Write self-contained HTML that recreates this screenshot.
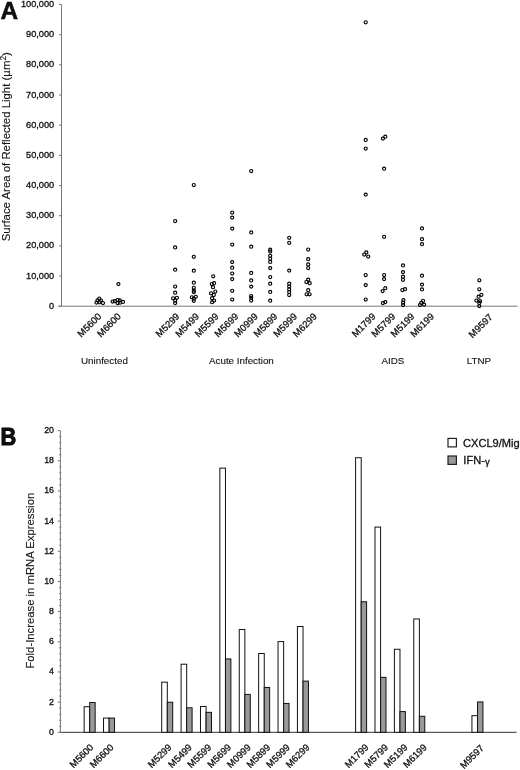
<!DOCTYPE html>
<html><head><meta charset="utf-8"><title>Figure</title>
<style>
html,body{margin:0;padding:0;background:#fff;}
body{width:520px;height:770px;overflow:hidden;}
svg{display:block;will-change:transform;}
svg text{font-family:"Liberation Sans", sans-serif;fill:#111;stroke:#111;stroke-width:0.12px;}
</style></head>
<body>
<svg width="520" height="770" viewBox="0 0 520 770">
<line x1="61.5" y1="4.5" x2="61.5" y2="306.2" stroke="#777" stroke-width="1"/>
<line x1="58" y1="306.2" x2="517.5" y2="306.2" stroke="#777" stroke-width="1"/>
<line x1="59" y1="306.20" x2="61.5" y2="306.20" stroke="#777" stroke-width="1"/>
<text x="54.2" y="308.80" font-size="9.2" text-anchor="end" style="stroke-width:0.32px">0</text>
<line x1="59" y1="276.03" x2="61.5" y2="276.03" stroke="#777" stroke-width="1"/>
<text x="54.2" y="278.63" font-size="9.2" text-anchor="end" style="stroke-width:0.32px">10,000</text>
<line x1="59" y1="245.86" x2="61.5" y2="245.86" stroke="#777" stroke-width="1"/>
<text x="54.2" y="248.46" font-size="9.2" text-anchor="end" style="stroke-width:0.32px">20,000</text>
<line x1="59" y1="215.69" x2="61.5" y2="215.69" stroke="#777" stroke-width="1"/>
<text x="54.2" y="218.29" font-size="9.2" text-anchor="end" style="stroke-width:0.32px">30,000</text>
<line x1="59" y1="185.52" x2="61.5" y2="185.52" stroke="#777" stroke-width="1"/>
<text x="54.2" y="188.12" font-size="9.2" text-anchor="end" style="stroke-width:0.32px">40,000</text>
<line x1="59" y1="155.35" x2="61.5" y2="155.35" stroke="#777" stroke-width="1"/>
<text x="54.2" y="157.95" font-size="9.2" text-anchor="end" style="stroke-width:0.32px">50,000</text>
<line x1="59" y1="125.18" x2="61.5" y2="125.18" stroke="#777" stroke-width="1"/>
<text x="54.2" y="127.78" font-size="9.2" text-anchor="end" style="stroke-width:0.32px">60,000</text>
<line x1="59" y1="95.01" x2="61.5" y2="95.01" stroke="#777" stroke-width="1"/>
<text x="54.2" y="97.61" font-size="9.2" text-anchor="end" style="stroke-width:0.32px">70,000</text>
<line x1="59" y1="64.84" x2="61.5" y2="64.84" stroke="#777" stroke-width="1"/>
<text x="54.2" y="67.44" font-size="9.2" text-anchor="end" style="stroke-width:0.32px">80,000</text>
<line x1="59" y1="34.67" x2="61.5" y2="34.67" stroke="#777" stroke-width="1"/>
<text x="54.2" y="37.27" font-size="9.2" text-anchor="end" style="stroke-width:0.32px">90,000</text>
<line x1="59" y1="4.50" x2="61.5" y2="4.50" stroke="#777" stroke-width="1"/>
<text x="54.2" y="7.10" font-size="9.2" text-anchor="end" style="stroke-width:0.32px">100,000</text>
<g fill="none" stroke="#000" stroke-width="1.15"><circle cx="99.2" cy="298.5" r="1.55"/><circle cx="97.5" cy="300.3" r="1.55"/><circle cx="101" cy="300.5" r="1.55"/><circle cx="96.5" cy="302.5" r="1.55"/><circle cx="99.5" cy="302.3" r="1.55"/><circle cx="103" cy="303" r="1.55"/><circle cx="118.4" cy="284.1" r="1.55"/><circle cx="112.6" cy="301.5" r="1.55"/><circle cx="114.8" cy="301.2" r="1.55"/><circle cx="117.6" cy="300" r="1.55"/><circle cx="119.7" cy="300.4" r="1.55"/><circle cx="117.6" cy="303" r="1.55"/><circle cx="120" cy="302.7" r="1.55"/><circle cx="123" cy="301.9" r="1.55"/><circle cx="175.15" cy="221.0" r="1.55"/><circle cx="175.15" cy="247.4" r="1.55"/><circle cx="175.15" cy="269.7" r="1.55"/><circle cx="175.15" cy="286.5" r="1.55"/><circle cx="175.15" cy="292.7" r="1.55"/><circle cx="173.1" cy="298.3" r="1.55"/><circle cx="176.9" cy="297.8" r="1.55"/><circle cx="175.15" cy="300.4" r="1.55"/><circle cx="175.15" cy="303.1" r="1.55"/><circle cx="193.8" cy="185" r="1.55"/><circle cx="193.8" cy="256.8" r="1.55"/><circle cx="193.8" cy="270.7" r="1.55"/><circle cx="193.8" cy="282.7" r="1.55"/><circle cx="193.8" cy="287.8" r="1.55"/><circle cx="193.8" cy="290.6" r="1.55"/><circle cx="193.8" cy="292" r="1.55"/><circle cx="191.9" cy="297.3" r="1.55"/><circle cx="195.8" cy="296.8" r="1.55"/><circle cx="193.8" cy="298.5" r="1.55"/><circle cx="193.8" cy="300.8" r="1.55"/><circle cx="213.2" cy="276.3" r="1.55"/><circle cx="214.1" cy="283.2" r="1.55"/><circle cx="211.8" cy="284" r="1.55"/><circle cx="213" cy="287.2" r="1.55"/><circle cx="215.3" cy="291.5" r="1.55"/><circle cx="211" cy="293.3" r="1.55"/><circle cx="213.8" cy="295" r="1.55"/><circle cx="212.1" cy="298.2" r="1.55"/><circle cx="214.1" cy="300.5" r="1.55"/><circle cx="212.1" cy="302.2" r="1.55"/><circle cx="232.2" cy="212.5" r="1.55"/><circle cx="232.2" cy="217.6" r="1.55"/><circle cx="232.2" cy="228.6" r="1.55"/><circle cx="232.2" cy="244.5" r="1.55"/><circle cx="232.2" cy="262.1" r="1.55"/><circle cx="232.2" cy="267.7" r="1.55"/><circle cx="232.2" cy="273.5" r="1.55"/><circle cx="232.2" cy="279.1" r="1.55"/><circle cx="232.2" cy="290.8" r="1.55"/><circle cx="232.2" cy="299.5" r="1.55"/><circle cx="251.2" cy="171" r="1.55"/><circle cx="251.2" cy="232.4" r="1.55"/><circle cx="251.2" cy="246.7" r="1.55"/><circle cx="251.2" cy="272.9" r="1.55"/><circle cx="251.2" cy="280.4" r="1.55"/><circle cx="251.2" cy="286.6" r="1.55"/><circle cx="251.2" cy="296" r="1.55"/><circle cx="251.2" cy="297.8" r="1.55"/><circle cx="251.2" cy="300.5" r="1.55"/><circle cx="270.2" cy="249.6" r="1.55"/><circle cx="270.2" cy="251.6" r="1.55"/><circle cx="270.2" cy="255.8" r="1.55"/><circle cx="270.2" cy="258.8" r="1.55"/><circle cx="270.2" cy="261.9" r="1.55"/><circle cx="270.2" cy="268.1" r="1.55"/><circle cx="270.2" cy="277" r="1.55"/><circle cx="270.2" cy="283.7" r="1.55"/><circle cx="270.2" cy="291.9" r="1.55"/><circle cx="270.2" cy="300.7" r="1.55"/><circle cx="289.2" cy="237.8" r="1.55"/><circle cx="289.2" cy="242.8" r="1.55"/><circle cx="289.2" cy="270.6" r="1.55"/><circle cx="289.2" cy="283.7" r="1.55"/><circle cx="289.2" cy="286.5" r="1.55"/><circle cx="289.2" cy="289.3" r="1.55"/><circle cx="289.2" cy="292" r="1.55"/><circle cx="289.2" cy="295" r="1.55"/><circle cx="308.2" cy="249.5" r="1.55"/><circle cx="308.2" cy="259.2" r="1.55"/><circle cx="308.2" cy="264.4" r="1.55"/><circle cx="308.2" cy="268" r="1.55"/><circle cx="308.2" cy="279.6" r="1.55"/><circle cx="306.4" cy="282" r="1.55"/><circle cx="309.7" cy="283.2" r="1.55"/><circle cx="308.2" cy="290.2" r="1.55"/><circle cx="306.6" cy="294.3" r="1.55"/><circle cx="309.6" cy="294.3" r="1.55"/><circle cx="365.7" cy="22.3" r="1.55"/><circle cx="365.7" cy="139.9" r="1.55"/><circle cx="365.7" cy="148.5" r="1.55"/><circle cx="365.7" cy="194.6" r="1.55"/><circle cx="364.2" cy="254.5" r="1.55"/><circle cx="366.3" cy="252.4" r="1.55"/><circle cx="368.2" cy="256.5" r="1.55"/><circle cx="365.7" cy="275" r="1.55"/><circle cx="365.7" cy="285.1" r="1.55"/><circle cx="365.7" cy="299.5" r="1.55"/><circle cx="385.3" cy="136.7" r="1.55"/><circle cx="382.9" cy="138.6" r="1.55"/><circle cx="384.1" cy="168.7" r="1.55"/><circle cx="384.1" cy="236.8" r="1.55"/><circle cx="384.1" cy="275" r="1.55"/><circle cx="384.1" cy="279.1" r="1.55"/><circle cx="385.3" cy="288.2" r="1.55"/><circle cx="382.6" cy="291.1" r="1.55"/><circle cx="385.3" cy="302.1" r="1.55"/><circle cx="382.9" cy="303.1" r="1.55"/><circle cx="403" cy="265.4" r="1.55"/><circle cx="403" cy="272.1" r="1.55"/><circle cx="403" cy="276.7" r="1.55"/><circle cx="403" cy="279.8" r="1.55"/><circle cx="402.3" cy="290" r="1.55"/><circle cx="405" cy="289.2" r="1.55"/><circle cx="403.4" cy="300.2" r="1.55"/><circle cx="403.1" cy="302.7" r="1.55"/><circle cx="403.1" cy="305" r="1.55"/><circle cx="422" cy="228.4" r="1.55"/><circle cx="422" cy="239.2" r="1.55"/><circle cx="422" cy="244.2" r="1.55"/><circle cx="422" cy="275.7" r="1.55"/><circle cx="422" cy="284.6" r="1.55"/><circle cx="422" cy="289.4" r="1.55"/><circle cx="423.1" cy="300.8" r="1.55"/><circle cx="421.2" cy="302.9" r="1.55"/><circle cx="424.1" cy="304.6" r="1.55"/><circle cx="420" cy="305" r="1.55"/><circle cx="479.3" cy="280.3" r="1.55"/><circle cx="479.3" cy="289.3" r="1.55"/><circle cx="481.4" cy="294.8" r="1.55"/><circle cx="478.6" cy="296.7" r="1.55"/><circle cx="476.4" cy="300.5" r="1.55"/><circle cx="480" cy="301.2" r="1.55"/><circle cx="479.3" cy="302.9" r="1.55"/><circle cx="479.3" cy="306.1" r="1.55"/></g>
<text x="99.78" y="314.98" font-size="9.5" text-anchor="end" transform="rotate(-45 99.78 314.98)" dy="3" style="stroke-width:0.3px">M5600</text>
<text x="119.48" y="314.98" font-size="9.5" text-anchor="end" transform="rotate(-45 119.48 314.98)" dy="3" style="stroke-width:0.3px">M6600</text>
<text x="178.01" y="314.98" font-size="9.5" text-anchor="end" transform="rotate(-45 178.01 314.98)" dy="3" style="stroke-width:0.3px">M5299</text>
<text x="197.71" y="314.98" font-size="9.5" text-anchor="end" transform="rotate(-45 197.71 314.98)" dy="3" style="stroke-width:0.3px">M5499</text>
<text x="217.21" y="314.98" font-size="9.5" text-anchor="end" transform="rotate(-45 217.21 314.98)" dy="3" style="stroke-width:0.3px">M5599</text>
<text x="236.81" y="314.98" font-size="9.5" text-anchor="end" transform="rotate(-45 236.81 314.98)" dy="3" style="stroke-width:0.3px">M5699</text>
<text x="256.41" y="314.98" font-size="9.5" text-anchor="end" transform="rotate(-45 256.41 314.98)" dy="3" style="stroke-width:0.3px">M0999</text>
<text x="276.01" y="314.98" font-size="9.5" text-anchor="end" transform="rotate(-45 276.01 314.98)" dy="3" style="stroke-width:0.3px">M5899</text>
<text x="295.71" y="314.98" font-size="9.5" text-anchor="end" transform="rotate(-45 295.71 314.98)" dy="3" style="stroke-width:0.3px">M5999</text>
<text x="315.31" y="314.98" font-size="9.5" text-anchor="end" transform="rotate(-45 315.31 314.98)" dy="3" style="stroke-width:0.3px">M6299</text>
<text x="374.21" y="314.98" font-size="9.5" text-anchor="end" transform="rotate(-45 374.21 314.98)" dy="3" style="stroke-width:0.3px">M1799</text>
<text x="393.81" y="314.98" font-size="9.5" text-anchor="end" transform="rotate(-45 393.81 314.98)" dy="3" style="stroke-width:0.3px">M5799</text>
<text x="413.01" y="314.98" font-size="9.5" text-anchor="end" transform="rotate(-45 413.01 314.98)" dy="3" style="stroke-width:0.3px">M5199</text>
<text x="432.61" y="314.98" font-size="9.5" text-anchor="end" transform="rotate(-45 432.61 314.98)" dy="3" style="stroke-width:0.3px">M6199</text>
<text x="491.04" y="315.74" font-size="9.5" text-anchor="end" transform="rotate(-45 491.04 315.74)" dy="3" style="stroke-width:0.3px">M9597</text>
<text x="81.0" y="364.3" font-size="9.8">Uninfected</text>
<text x="209.0" y="364.3" font-size="9.8">Acute Infection</text>
<text x="381.5" y="364.3" font-size="9.8">AIDS</text>
<text x="466.8" y="364.3" font-size="9.8">LTNP</text>
<text x="0" y="0" font-size="11.4" transform="translate(10.2 241.3) rotate(-90)">Surface Area of Reflected Light (µm<tspan font-size="8.3" dy="-4.3">2</tspan><tspan dy="4.3">)</tspan></text>
<text x="0.6" y="18.7" font-size="24.4" font-weight="bold" style="stroke:#000;stroke-width:0.5px">A</text>
<line x1="60.4" y1="430.6" x2="60.4" y2="732.3" stroke="#777" stroke-width="1"/>
<line x1="60.4" y1="732.3" x2="516.5" y2="732.3" stroke="#333" stroke-width="1"/>
<line x1="57.8" y1="732.30" x2="60.4" y2="732.30" stroke="#777" stroke-width="1"/>
<text x="54.0" y="734.80" font-size="8.8" text-anchor="end" style="stroke-width:0.32px">0</text>
<line x1="59.1" y1="726.27" x2="61.4" y2="726.27" stroke="#777" stroke-width="0.9"/>
<line x1="59.1" y1="720.23" x2="61.4" y2="720.23" stroke="#777" stroke-width="0.9"/>
<line x1="59.1" y1="714.20" x2="61.4" y2="714.20" stroke="#777" stroke-width="0.9"/>
<line x1="59.1" y1="708.16" x2="61.4" y2="708.16" stroke="#777" stroke-width="0.9"/>
<line x1="57.8" y1="702.13" x2="60.4" y2="702.13" stroke="#777" stroke-width="1"/>
<text x="54.0" y="704.63" font-size="8.8" text-anchor="end" style="stroke-width:0.32px">2</text>
<line x1="59.1" y1="696.10" x2="61.4" y2="696.10" stroke="#777" stroke-width="0.9"/>
<line x1="59.1" y1="690.06" x2="61.4" y2="690.06" stroke="#777" stroke-width="0.9"/>
<line x1="59.1" y1="684.03" x2="61.4" y2="684.03" stroke="#777" stroke-width="0.9"/>
<line x1="59.1" y1="677.99" x2="61.4" y2="677.99" stroke="#777" stroke-width="0.9"/>
<line x1="57.8" y1="671.96" x2="60.4" y2="671.96" stroke="#777" stroke-width="1"/>
<text x="54.0" y="674.46" font-size="8.8" text-anchor="end" style="stroke-width:0.32px">4</text>
<line x1="59.1" y1="665.93" x2="61.4" y2="665.93" stroke="#777" stroke-width="0.9"/>
<line x1="59.1" y1="659.89" x2="61.4" y2="659.89" stroke="#777" stroke-width="0.9"/>
<line x1="59.1" y1="653.86" x2="61.4" y2="653.86" stroke="#777" stroke-width="0.9"/>
<line x1="59.1" y1="647.82" x2="61.4" y2="647.82" stroke="#777" stroke-width="0.9"/>
<line x1="57.8" y1="641.79" x2="60.4" y2="641.79" stroke="#777" stroke-width="1"/>
<text x="54.0" y="644.29" font-size="8.8" text-anchor="end" style="stroke-width:0.32px">6</text>
<line x1="59.1" y1="635.76" x2="61.4" y2="635.76" stroke="#777" stroke-width="0.9"/>
<line x1="59.1" y1="629.72" x2="61.4" y2="629.72" stroke="#777" stroke-width="0.9"/>
<line x1="59.1" y1="623.69" x2="61.4" y2="623.69" stroke="#777" stroke-width="0.9"/>
<line x1="59.1" y1="617.65" x2="61.4" y2="617.65" stroke="#777" stroke-width="0.9"/>
<line x1="57.8" y1="611.62" x2="60.4" y2="611.62" stroke="#777" stroke-width="1"/>
<text x="54.0" y="614.12" font-size="8.8" text-anchor="end" style="stroke-width:0.32px">8</text>
<line x1="59.1" y1="605.59" x2="61.4" y2="605.59" stroke="#777" stroke-width="0.9"/>
<line x1="59.1" y1="599.55" x2="61.4" y2="599.55" stroke="#777" stroke-width="0.9"/>
<line x1="59.1" y1="593.52" x2="61.4" y2="593.52" stroke="#777" stroke-width="0.9"/>
<line x1="59.1" y1="587.48" x2="61.4" y2="587.48" stroke="#777" stroke-width="0.9"/>
<line x1="57.8" y1="581.45" x2="60.4" y2="581.45" stroke="#777" stroke-width="1"/>
<text x="54.0" y="583.95" font-size="8.8" text-anchor="end" style="stroke-width:0.32px">10</text>
<line x1="59.1" y1="575.42" x2="61.4" y2="575.42" stroke="#777" stroke-width="0.9"/>
<line x1="59.1" y1="569.38" x2="61.4" y2="569.38" stroke="#777" stroke-width="0.9"/>
<line x1="59.1" y1="563.35" x2="61.4" y2="563.35" stroke="#777" stroke-width="0.9"/>
<line x1="59.1" y1="557.31" x2="61.4" y2="557.31" stroke="#777" stroke-width="0.9"/>
<line x1="57.8" y1="551.28" x2="60.4" y2="551.28" stroke="#777" stroke-width="1"/>
<text x="54.0" y="553.78" font-size="8.8" text-anchor="end" style="stroke-width:0.32px">12</text>
<line x1="59.1" y1="545.25" x2="61.4" y2="545.25" stroke="#777" stroke-width="0.9"/>
<line x1="59.1" y1="539.21" x2="61.4" y2="539.21" stroke="#777" stroke-width="0.9"/>
<line x1="59.1" y1="533.18" x2="61.4" y2="533.18" stroke="#777" stroke-width="0.9"/>
<line x1="59.1" y1="527.14" x2="61.4" y2="527.14" stroke="#777" stroke-width="0.9"/>
<line x1="57.8" y1="521.11" x2="60.4" y2="521.11" stroke="#777" stroke-width="1"/>
<text x="54.0" y="523.61" font-size="8.8" text-anchor="end" style="stroke-width:0.32px">14</text>
<line x1="59.1" y1="515.08" x2="61.4" y2="515.08" stroke="#777" stroke-width="0.9"/>
<line x1="59.1" y1="509.04" x2="61.4" y2="509.04" stroke="#777" stroke-width="0.9"/>
<line x1="59.1" y1="503.01" x2="61.4" y2="503.01" stroke="#777" stroke-width="0.9"/>
<line x1="59.1" y1="496.97" x2="61.4" y2="496.97" stroke="#777" stroke-width="0.9"/>
<line x1="57.8" y1="490.94" x2="60.4" y2="490.94" stroke="#777" stroke-width="1"/>
<text x="54.0" y="493.44" font-size="8.8" text-anchor="end" style="stroke-width:0.32px">16</text>
<line x1="59.1" y1="484.91" x2="61.4" y2="484.91" stroke="#777" stroke-width="0.9"/>
<line x1="59.1" y1="478.87" x2="61.4" y2="478.87" stroke="#777" stroke-width="0.9"/>
<line x1="59.1" y1="472.84" x2="61.4" y2="472.84" stroke="#777" stroke-width="0.9"/>
<line x1="59.1" y1="466.80" x2="61.4" y2="466.80" stroke="#777" stroke-width="0.9"/>
<line x1="57.8" y1="460.77" x2="60.4" y2="460.77" stroke="#777" stroke-width="1"/>
<text x="54.0" y="463.27" font-size="8.8" text-anchor="end" style="stroke-width:0.32px">18</text>
<line x1="59.1" y1="454.74" x2="61.4" y2="454.74" stroke="#777" stroke-width="0.9"/>
<line x1="59.1" y1="448.70" x2="61.4" y2="448.70" stroke="#777" stroke-width="0.9"/>
<line x1="59.1" y1="442.67" x2="61.4" y2="442.67" stroke="#777" stroke-width="0.9"/>
<line x1="59.1" y1="436.63" x2="61.4" y2="436.63" stroke="#777" stroke-width="0.9"/>
<line x1="57.8" y1="430.60" x2="60.4" y2="430.60" stroke="#777" stroke-width="1"/>
<text x="54.0" y="433.10" font-size="8.8" text-anchor="end" style="stroke-width:0.32px">20</text>
<rect x="84.14" y="706.75" width="5.6" height="25.55" fill="#fff" stroke="#111" stroke-width="1"/>
<rect x="89.74" y="702.53" width="5.4" height="29.77" fill="#999" stroke="#111" stroke-width="1"/>
<rect x="103.53" y="718.07" width="5.6" height="14.23" fill="#fff" stroke="#111" stroke-width="1"/>
<rect x="109.13" y="718.07" width="5.4" height="14.23" fill="#999" stroke="#111" stroke-width="1"/>
<rect x="161.70" y="682.17" width="5.6" height="50.13" fill="#fff" stroke="#111" stroke-width="1"/>
<rect x="167.30" y="702.23" width="5.4" height="30.07" fill="#999" stroke="#111" stroke-width="1"/>
<rect x="181.09" y="664.21" width="5.6" height="68.09" fill="#fff" stroke="#111" stroke-width="1"/>
<rect x="186.69" y="707.81" width="5.4" height="24.49" fill="#999" stroke="#111" stroke-width="1"/>
<rect x="200.48" y="706.45" width="5.6" height="25.85" fill="#fff" stroke="#111" stroke-width="1"/>
<rect x="206.08" y="712.34" width="5.4" height="19.96" fill="#999" stroke="#111" stroke-width="1"/>
<rect x="219.87" y="468.11" width="5.6" height="264.19" fill="#fff" stroke="#111" stroke-width="1"/>
<rect x="225.47" y="658.93" width="5.4" height="73.37" fill="#999" stroke="#111" stroke-width="1"/>
<rect x="239.26" y="629.52" width="5.6" height="102.78" fill="#fff" stroke="#111" stroke-width="1"/>
<rect x="244.86" y="694.38" width="5.4" height="37.92" fill="#999" stroke="#111" stroke-width="1"/>
<rect x="258.65" y="653.50" width="5.6" height="78.80" fill="#fff" stroke="#111" stroke-width="1"/>
<rect x="264.25" y="687.44" width="5.4" height="44.86" fill="#999" stroke="#111" stroke-width="1"/>
<rect x="278.04" y="641.59" width="5.6" height="90.71" fill="#fff" stroke="#111" stroke-width="1"/>
<rect x="283.64" y="703.44" width="5.4" height="28.86" fill="#999" stroke="#111" stroke-width="1"/>
<rect x="297.43" y="626.50" width="5.6" height="105.80" fill="#fff" stroke="#111" stroke-width="1"/>
<rect x="303.03" y="681.11" width="5.4" height="51.19" fill="#999" stroke="#111" stroke-width="1"/>
<rect x="355.60" y="457.70" width="5.6" height="274.60" fill="#fff" stroke="#111" stroke-width="1"/>
<rect x="361.20" y="601.76" width="5.4" height="130.54" fill="#999" stroke="#111" stroke-width="1"/>
<rect x="374.99" y="527.09" width="5.6" height="205.21" fill="#fff" stroke="#111" stroke-width="1"/>
<rect x="380.59" y="677.34" width="5.4" height="54.96" fill="#999" stroke="#111" stroke-width="1"/>
<rect x="394.38" y="649.28" width="5.6" height="83.02" fill="#fff" stroke="#111" stroke-width="1"/>
<rect x="399.98" y="711.58" width="5.4" height="20.72" fill="#999" stroke="#111" stroke-width="1"/>
<rect x="413.77" y="618.96" width="5.6" height="113.34" fill="#fff" stroke="#111" stroke-width="1"/>
<rect x="419.37" y="716.26" width="5.4" height="16.04" fill="#999" stroke="#111" stroke-width="1"/>
<rect x="471.94" y="715.65" width="5.6" height="16.65" fill="#fff" stroke="#111" stroke-width="1"/>
<rect x="477.54" y="701.93" width="5.4" height="30.37" fill="#999" stroke="#111" stroke-width="1"/>
<text x="91.98" y="745.78" font-size="9.5" text-anchor="end" transform="rotate(-45 91.98 745.78)" dy="3" style="stroke-width:0.3px">M5600</text>
<text x="112.08" y="745.78" font-size="9.5" text-anchor="end" transform="rotate(-45 112.08 745.78)" dy="3" style="stroke-width:0.3px">M6600</text>
<text x="170.21" y="745.78" font-size="9.5" text-anchor="end" transform="rotate(-45 170.21 745.78)" dy="3" style="stroke-width:0.3px">M5299</text>
<text x="190.51" y="745.78" font-size="9.5" text-anchor="end" transform="rotate(-45 190.51 745.78)" dy="3" style="stroke-width:0.3px">M5499</text>
<text x="209.81" y="745.78" font-size="9.5" text-anchor="end" transform="rotate(-45 209.81 745.78)" dy="3" style="stroke-width:0.3px">M5599</text>
<text x="229.61" y="745.78" font-size="9.5" text-anchor="end" transform="rotate(-45 229.61 745.78)" dy="3" style="stroke-width:0.3px">M5699</text>
<text x="249.31" y="745.78" font-size="9.5" text-anchor="end" transform="rotate(-45 249.31 745.78)" dy="3" style="stroke-width:0.3px">M0999</text>
<text x="268.91" y="745.78" font-size="9.5" text-anchor="end" transform="rotate(-45 268.91 745.78)" dy="3" style="stroke-width:0.3px">M5899</text>
<text x="288.51" y="745.78" font-size="9.5" text-anchor="end" transform="rotate(-45 288.51 745.78)" dy="3" style="stroke-width:0.3px">M5999</text>
<text x="308.11" y="745.78" font-size="9.5" text-anchor="end" transform="rotate(-45 308.11 745.78)" dy="3" style="stroke-width:0.3px">M6299</text>
<text x="367.11" y="745.78" font-size="9.5" text-anchor="end" transform="rotate(-45 367.11 745.78)" dy="3" style="stroke-width:0.3px">M1799</text>
<text x="386.71" y="745.78" font-size="9.5" text-anchor="end" transform="rotate(-45 386.71 745.78)" dy="3" style="stroke-width:0.3px">M5799</text>
<text x="406.11" y="745.78" font-size="9.5" text-anchor="end" transform="rotate(-45 406.11 745.78)" dy="3" style="stroke-width:0.3px">M5199</text>
<text x="425.41" y="745.78" font-size="9.5" text-anchor="end" transform="rotate(-45 425.41 745.78)" dy="3" style="stroke-width:0.3px">M6199</text>
<text x="482.44" y="746.54" font-size="9.5" text-anchor="end" transform="rotate(-45 482.44 746.54)" dy="3" style="stroke-width:0.3px">M9597</text>
<rect x="448" y="438.4" width="8.4" height="8.5" fill="#fff" stroke="#222" stroke-width="1.2"/>
<rect x="448" y="456" width="8.4" height="8.4" fill="#999" stroke="#222" stroke-width="1.2"/>
<text x="463" y="446.8" font-size="11.1" style="stroke-width:0.3px">CXCL9/Mig</text>
<text x="463.3" y="464.3" font-size="11.1" style="stroke-width:0.3px">IFN-<tspan font-size="9.5" dy="0.5">γ</tspan></text>
<text x="0" y="0" font-size="11.3" transform="translate(33.5 668.6) rotate(-90)">Fold-Increase in mRNA Expression</text>
<text x="0" y="0" font-size="24.2" font-weight="bold" style="stroke:#000;stroke-width:1.0px" transform="translate(0.5 445.2) scale(0.9 1)">B</text>
</svg>
</body></html>
